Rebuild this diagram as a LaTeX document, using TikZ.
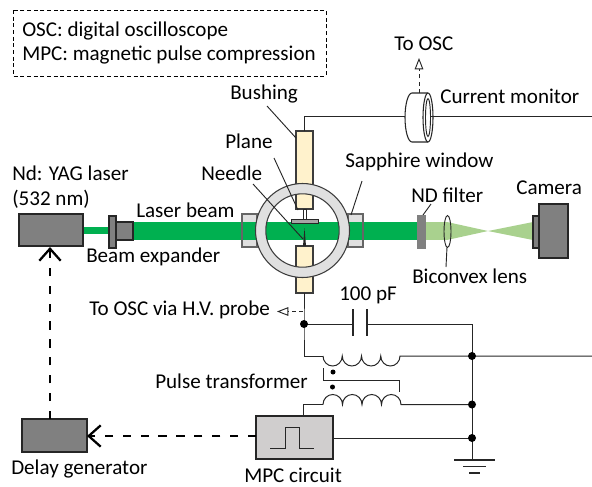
\documentclass[tikz,border=0pt]{standalone}
\usepackage{fontspec}
\setmainfont{Carlito}
\usetikzlibrary{arrows.meta}
\definecolor{bgreen}{HTML}{00B050}
\definecolor{lgreen}{HTML}{A9D18E}
\definecolor{bush}{HTML}{FFF2CC}
\definecolor{ringg}{HTML}{E0E0E0}
\definecolor{dk}{HTML}{808080}
\definecolor{mpcg}{HTML}{D0CECE}
\definecolor{ln}{HTML}{262626}
\tikzset{
 px/.style={x=0.75pt,y=-0.75pt},
 wire/.style={draw=ln,line width=0.75pt},
 box/.style={draw=ln,line width=0.9pt},
 lead/.style={draw=ln,line width=0.7pt},
 lbl/.style={font=\fontsize{15.8}{18}\selectfont,text=black,inner sep=0pt,anchor=west},
 junction/.style={circle,fill=black,inner sep=0pt,minimum size=6pt},
 thickdash/.style={draw=black,line width=1.7pt,dash pattern=on 6.2pt off 7.2pt},
 barb/.style={-{Straight Barb[length=9pt,width=16pt]}},
 probe/.style={draw=ln,line width=0.7pt,dash pattern=on 3pt off 2.5pt,-{Triangle[open,length=8.5pt,width=6.5pt]}},
}
\begin{document}
\begin{tikzpicture}[px]
\useasboundingbox (0,0) rectangle (592,486);
% legend
\path[draw=black,line width=0.7pt,dash pattern=on 3pt off 2pt] (13,10) rectangle (326,76);
\node[lbl] (t1) at (22,31) {OSC: digital oscilloscope};
\node[lbl] (t2) at (22,55) {MPC: magnetic pulse compression};
% beams
\fill[bgreen] (83,227) rectangle (109,234);
\fill[bgreen] (133,222) rectangle (417,240);
\fill[lgreen] (425,222) rectangle (447,240);
\fill[lgreen] (447,222) -- (488,231) -- (447,240) -- cycle;
\fill[lgreen] (488,231) -- (533,222) -- (533,240) -- cycle;
% laser
\path[box,fill=dk] (19,214) rectangle (83,246);
\path[box,fill=dk] (109,216) rectangle (116,248);
\path[box,fill=dk] (116,222) rectangle (133,240);
% windows
\path[box,draw=dk!80!black,fill=ringg] (242,214) rectangle (257,247);
\path[box,draw=dk!80!black,fill=ringg] (348,214) rectangle (363,247);
\fill[bgreen] (242.6,222) rectangle (362.4,240);
% bushings
\path[box,draw=ln!90,fill=bush] (296,131) rectangle (313,209);
\path[box,draw=ln!90,fill=bush] (296,246) rectangle (313,293);
% ring
\path[draw=ln!90,line width=0.8pt,fill=ringg,even odd rule] (302.5,230.5) circle[radius=47] (302.5,230.5) circle[radius=36.7];
% plane / needle
\path[draw=ln,line width=0.5pt,fill=white] (303,209) rectangle (306,219);
\path[draw=ln,line width=0.7pt,fill=gray!70] (291,219.5) rectangle (318,223);
\fill[ln] (303,246) -- (304.5,228) -- (306,246) -- cycle;
% leaders
\draw[lead] (267,106) -- (296,138);
\draw[lead] (274,158) -- (298,210);
\draw[lead] (253,184) -- (303,239);
\draw[lead] (362,181) -- (351,215);
\draw[lead] (431,204) -- (423,215);
\draw[lead] (447,247) -- (446,267);
% right optics
\path[draw=dk,fill=dk] (417,215) rectangle (425,248);
\draw[ln,line width=0.7pt] (447.5,231.5) ellipse[x radius=3.5,y radius=16];
\path[box,fill=dk] (533,216) rectangle (539,248);
\path[box,fill=dk] (539,204) rectangle (568,258);
% top wire and monitor
\draw[wire] (304,131) -- (304,116.5) -- (592,116.5);
\path[draw=ln,line width=0.8pt,fill=white] (428,93) -- (412,93) arc[start angle=270,end angle=90,x radius=7,y radius=24.5] -- (428,142) arc[start angle=90,end angle=-90,x radius=5,y radius=24.5] -- cycle;
\draw[ln,line width=0.8pt] (428,93) arc[start angle=270,end angle=90,x radius=5,y radius=24.5];
\draw[ln,line width=0.7pt] (428,98.5) arc[start angle=270,end angle=-90,x radius=2.5,y radius=19];
\draw[wire] (430.5,116.5) -- (592,116.5);
\coordinate (oscA) at (419,93);
\coordinate (oscB) at (419,58);
\draw[probe] (oscA) -- (oscB);
% circuit
\coordinate (nA) at (304,324);
\coordinate (nB) at (472,356);
\coordinate (nC) at (472,404.5);
\coordinate (nD) at (472,438);
\draw[wire] (304,293) -- (nA) -- (304,356) -- (323,356);
\draw[wire] (nA) -- (353,324);
\draw[wire] (367,324) -- (472,324) -- (472,460);
\draw[line width=0.8pt,ln] (353,309) -- (353,336) (367,309) -- (367,336);
% coils
\draw[wire] (323,356) arc[start angle=180,end angle=0,x radius=9.625,y radius=10] arc[start angle=180,end angle=0,x radius=9.625,y radius=10] arc[start angle=180,end angle=0,x radius=9.625,y radius=10] arc[start angle=180,end angle=0,x radius=9.625,y radius=10] -- (592,356);
\draw[wire] (323,404.5) arc[start angle=180,end angle=360,x radius=9.75,y radius=10] arc[start angle=180,end angle=360,x radius=9.75,y radius=10] arc[start angle=180,end angle=360,x radius=9.75,y radius=10] arc[start angle=180,end angle=360,x radius=9.75,y radius=10] -- (nC);
\draw[wire] (323,404.5) -- (303,404.5) -- (303,416);
\draw[wire] (323,368) -- (323,380) -- (399,380) -- (399,392);
\fill[black] (333,372) circle[radius=2.5] (332.5,387) circle[radius=2.5];
% MPC
\path[box,fill=mpcg] (256,416) rectangle (333,459);
\draw[wire] (270,448) -- (285,448) -- (285,427) -- (299,427) -- (299,448) -- (314,448);
\draw[wire] (333,438) -- (nD);
% ground
\draw[line width=0.9pt,ln] (454,460) -- (495,460) (463,466.5) -- (486,466.5) (469,473) -- (480,473);
% delay
\path[box,fill=dk] (22,419) rectangle (87,452);
\draw[thickdash,barb] (256,436) -- (87,436);
\draw[thickdash,barb] (50,419) -- (50,247);
% junctions
\node[junction] (jA) at (nA) {};
\node[junction] (jB) at (nB) {};
\node[junction] (jC) at (nC) {};
\node[junction] (jD) at (nD) {};
\coordinate (pA) at (303,311.5);
\coordinate (pB) at (277,311.5);
\draw[probe] (pA) -- (pB);
% labels
\node[lbl] (l1) at (394,44) {To OSC};
\node[lbl] (l2) at (440,96) {Current monitor};
\node[lbl] (l3) at (230,94) {Bushing};
\node[lbl] (l4) at (225,141) {Plane};
\node[lbl] (l5) at (201,173) {Needle};
\node[lbl] (l6) at (345,162) {Sapphire window};
\node[lbl] (l7) at (411,195) {ND filter};
\node[lbl] (l8) at (516,188) {Camera};
\node[lbl] (l9) at (412,276) {Biconvex lens};
\node[lbl] (l10) at (12,173) {Nd: YAG laser};
\node[lbl] (l11) at (12,199) {(532 nm)};
\node[lbl] (l12) at (136,210) {Laser beam};
\node[lbl] (l13) at (86,257) {Beam expander};
\node[lbl] (l14) at (89,310) {To OSC via H.V. probe};
\node[lbl] (l15) at (339,295) {100 pF};
\node[lbl] (l16) at (155,381) {Pulse transformer};
\node[lbl] (l17) at (244,475) {MPC circuit};
\node[lbl] (l18) at (11,469) {Delay generator};
\end{tikzpicture}
\end{document}
